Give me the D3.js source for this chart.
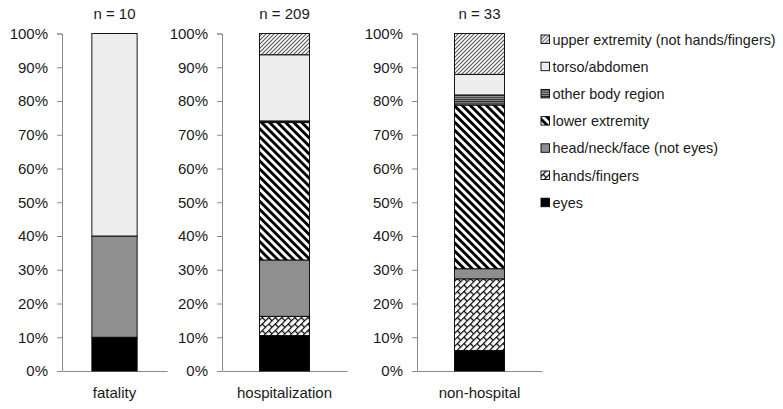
<!DOCTYPE html>
<html>
<head>
<meta charset="utf-8">
<script src="https://cdn.jsdelivr.net/npm/d3@7"></script>
<style>
  body { margin: 0; background: #fff; }
  svg text { font-family: "Liberation Sans", Arial, sans-serif; fill: #1a1a1a; }
</style>
</head>
<body>
<div id="chart"></div>
<script>
// data (percent of injuries per outcome)
const categories = ['fatality', 'hospitalization', 'non-hospital'];
const sampleSizes = [10, 209, 33];
const regions = ['eyes', 'hands/fingers', 'head/neck/face (not eyes)', 'lower extremity',
                 'other body region', 'torso/abdomen', 'upper extremity (not hands/fingers)'];
const fatalityPct        = [10, 0, 30, 0, 0, 60, 0];
const hospitalizationPct = [10.5, 5.7, 16.7, 40.7, 0.5, 19.6, 6.3];
const nonHospitalPct     = [6.1, 21.2, 3.0, 48.5, 3.0, 6.1, 12.1];
const yTicks = [0, 10, 20, 30, 40, 50, 60, 70, 80, 90, 100];

const width = 783,
      height = 409,
      plotTop = 33.5,
      plotBottom = 371;

// one small chart per outcome: left edge of axis and width of the panel
const panels = [
  {x: 62, w: 105, pad: 0.33},
  {x: 222, w: 125, pad: 0.375},
  {x: 417, w: 125, pad: 0.375}
];

const fills = ['#000', 'url(#brick)', '#8f8f8f', 'url(#wideDown)',
               'url(#horiz)', '#ededed', 'url(#lightUp)'];

const table = categories.map((c, i) => {
  let row = {category: c, n: sampleSizes[i]};
  let vals = [fatalityPct, hospitalizationPct, nonHospitalPct][i];
  regions.forEach((r, j) => row[r] = vals[j]);
  return row;
});

const series = d3.stack().keys(regions)(table);

const svg = d3.select('#chart').append('svg')
  .attr('width', width)
  .attr('height', height);

// #region patterns
const defs = svg.append('defs');

let p = defs.append('pattern').attr('id', 'wideDown')
  .attr('patternUnits', 'userSpaceOnUse')
  .attr('width', 5.7).attr('height', 5.7)
  .attr('patternTransform', 'rotate(-45)');
p.append('rect').attr('width', 5.7).attr('height', 5.7).attr('fill', '#fff');
p.append('rect').attr('width', 2.9).attr('height', 5.7).attr('fill', '#000');

p = defs.append('pattern').attr('id', 'lightUp')
  .attr('patternUnits', 'userSpaceOnUse')
  .attr('width', 4).attr('height', 4);
p.append('rect').attr('width', 4).attr('height', 4).attr('fill', '#fff');
p.append('path').attr('d', 'M-1,1 L1,-1 M0,4 L4,0 M3,5 L5,3')
  .attr('stroke', '#555').attr('stroke-width', 1.1);

p = defs.append('pattern').attr('id', 'horiz')
  .attr('patternUnits', 'userSpaceOnUse')
  .attr('width', 4).attr('height', 2.2);
p.append('rect').attr('width', 4).attr('height', 2.2).attr('fill', '#9a9a9a');
p.append('rect').attr('width', 4).attr('height', 1).attr('fill', '#222');

// diagonal brick: continuous "/" rows with short "\" joints
p = defs.append('pattern').attr('id', 'brick')
  .attr('patternUnits', 'userSpaceOnUse')
  .attr('width', 8).attr('height', 8)
  .attr('patternTransform', 'rotate(-45) scale(1.15)');
p.append('rect').attr('width', 8).attr('height', 8).attr('fill', '#fff');
p.append('path').attr('d', 'M0,0.5 H8 M0,4.5 H8 M2,0.5 V4.5 M6,4.5 V8.5')
  .attr('stroke', '#000').attr('stroke-width', 1.1);
// #endregion

const y = d3.scaleLinear().domain([0, 100]).range([plotBottom, plotTop]);

panels.forEach((panel, i) => {
  const x = d3.scaleBand()
    .domain([categories[i]])
    .range([panel.x, panel.x + panel.w])
    .paddingInner(0.5)
    .paddingOuter(panel.pad);

  const g = svg.append('g');

  const yAxis = g.append('g')
    .attr('transform', `translate(${panel.x},0)`)
    .call(d3.axisLeft(y).tickValues(yTicks).tickSize(5).tickPadding(9)
      .tickFormat(d => d + '%'));
  yAxis.select('.domain').attr('stroke', '#8a8a8a');
  yAxis.selectAll('.tick line').attr('stroke', '#8a8a8a');
  yAxis.selectAll('text').style('font-size', '15px').attr('fill', '#1a1a1a');

  const xAxis = g.append('g')
    .attr('transform', `translate(0,${plotBottom})`)
    .call(d3.axisBottom(x).tickSize(0).tickPadding(16));
  xAxis.select('.domain').attr('stroke', '#8a8a8a');
  xAxis.selectAll('text').style('font-size', '15px').attr('fill', '#1a1a1a');

  series.forEach((s, k) => {
    const d = s[i];
    if (d[1] - d[0] <= 0) return;
    g.append('rect')
      .attr('x', x(categories[i]))
      .attr('width', x.bandwidth())
      .attr('y', y(d[1]))
      .attr('height', y(d[0]) - y(d[1]))
      .attr('fill', fills[k])
      .attr('stroke', '#000')
      .attr('stroke-width', 0.9);
  });

  g.append('text')
    .attr('x', x(categories[i]) + x.bandwidth() / 2)
    .attr('y', 19)
    .attr('text-anchor', 'middle')
    .style('font-size', '15px')
    .text(`n = ${sampleSizes[i]}`);
});

// legend, top entry is the last series
const legend = svg.append('g').attr('transform', 'translate(541,0)');
const rows = legend.selectAll('g')
  .data(regions.map((r, k) => ({r, k})).reverse())
  .enter().append('g')
  .attr('transform', (d, i) => `translate(0,${39.5 + i * 27.2})`);

rows.append('rect')
  .attr('x', 0).attr('y', -4.5)
  .attr('width', 8.5).attr('height', 8.5)
  .attr('fill', d => fills[d.k])
  .attr('stroke', '#000')
  .attr('stroke-width', 0.9);

rows.append('text')
  .attr('x', 11.5)
  .attr('dy', '0.35em')
  .style('font-size', '14.4px')
  .text(d => d.r);
</script>
</body>
</html>
